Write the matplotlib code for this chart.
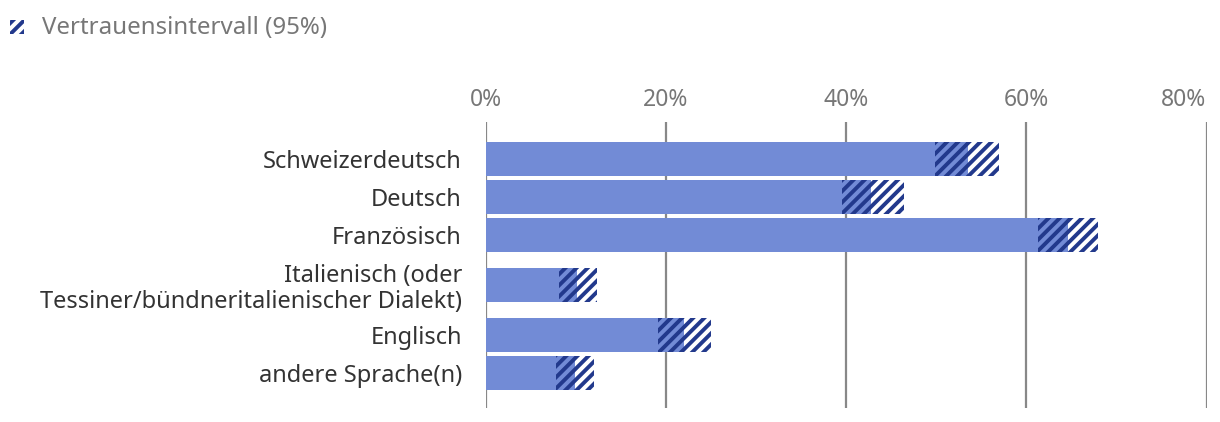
import numpy as np
import matplotlib.pyplot as plt
from matplotlib.patches import Rectangle

plt.rcParams['font.family'] = ['Noto Sans', 'DejaVu Sans']
plt.rcParams['hatch.linewidth'] = 2.8

kategorien = ['Schweizerdeutsch', 'Deutsch', 'Französisch',
              'Italienisch (oder\nTessiner/bündneritalienischer Dialekt)',
              'Englisch', 'andere Sprache(n)']
wert = [53.5, 42.8, 64.6, 10.2, 22.0, 9.9]
unten = [49.9, 39.5, 61.3, 8.2, 19.1, 7.8]
oben = [57.0, 46.4, 68.0, 12.4, 25.0, 12.0]
xticks = [0, 20, 40, 60, 80]
xticklabels = ['0%', '20%', '40%', '60%', '80%']

hell = '#728bd6'
dunkel = '#22398c'
grau = '#777777'

# y-Positionen: die zweizeilige Beschriftung braucht etwas mehr Platz
ypos = [0, 1, 2, 3.316, 4.632, 5.632]
h = 0.895

fig = plt.figure(figsize=(12.2, 4.22), dpi=100)
ax = fig.add_axes([0.398, 0.033, 0.591, 0.678])

ax.barh(ypos, unten, height=h, color=hell, linewidth=0, zorder=2)
ax.barh(ypos, np.array(wert) - np.array(unten), left=unten, height=h,
        color=hell, edgecolor=dunkel, hatch='///', linewidth=0, zorder=2)
ax.barh(ypos, np.array(oben) - np.array(wert), left=wert, height=h,
        color='white', edgecolor=dunkel, hatch='///', linewidth=0, zorder=2)

ax.set_xlim(0, 80)
ax.set_ylim(6.553, -0.974)
ax.set_xticks(xticks)
ax.set_xticklabels(xticklabels, color=grau, fontsize=16.5)
ax.xaxis.tick_top()
ax.set_yticks(ypos)
ax.set_yticklabels(kategorien, color='#333333', fontsize=17, linespacing=1.1)
ax.tick_params(length=0)
ax.tick_params(axis='y', pad=17)
ax.tick_params(axis='x', pad=7)
# letzte Beschriftung rechtsbündig, damit sie nicht abgeschnitten wird
ax.xaxis.get_major_ticks()[-1].label2.set_horizontalalignment('right')
for x in xticks:
    ax.axvline(x, color='#888888', linewidth=1.6, zorder=1)
for s in ax.spines.values():
    s.set_visible(False)

# Legende
fig.patches.append(Rectangle((10 / 1220, 1 - 34 / 422), 14 / 1220, 14 / 422,
                             transform=fig.transFigure, facecolor='white',
                             edgecolor=dunkel, hatch='///', linewidth=0))
fig.text(42 / 1220, 1 - 28 / 422, 'Vertrauensintervall (95%)', color=grau,
         fontsize=17.3, va='center', ha='left')

fig.savefig('out.png', dpi=100)
